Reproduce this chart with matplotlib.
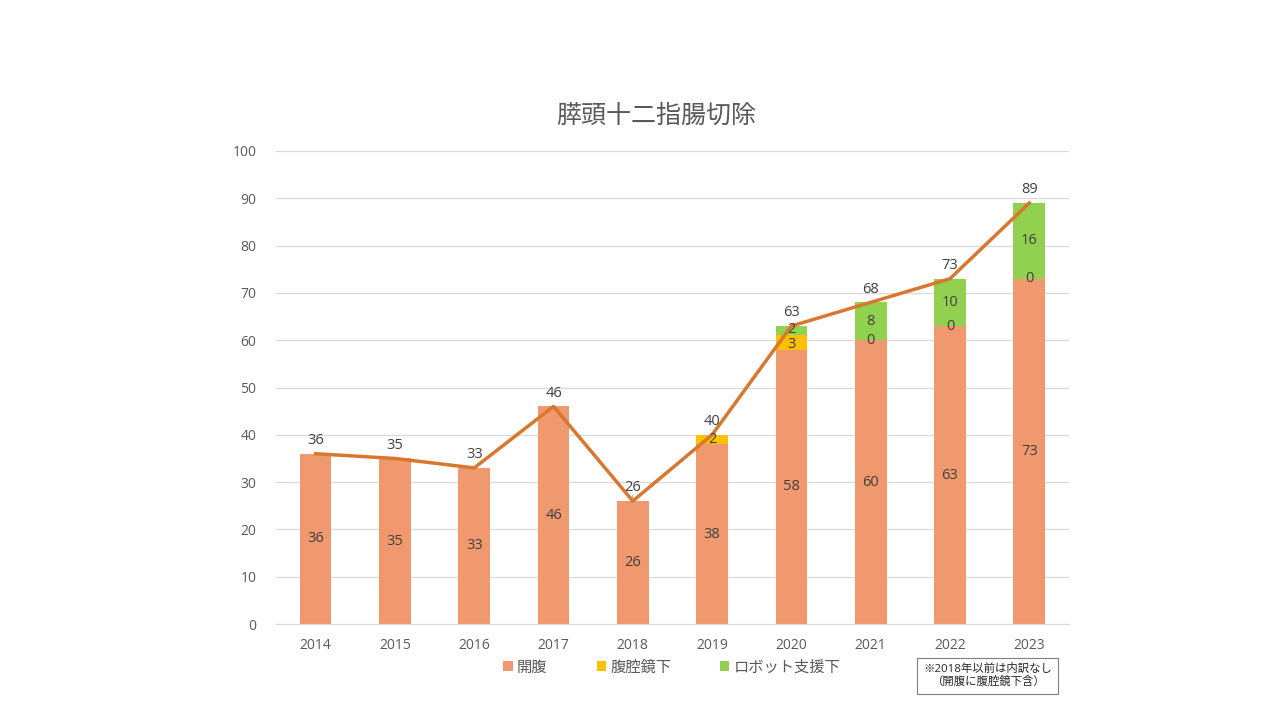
import matplotlib
matplotlib.use("Agg")
import matplotlib.pyplot as plt
import numpy as np

plt.rcParams['font.family'] = ['Open Sans', 'Noto Sans CJK JP', 'DejaVu Sans']

years = ['2014', '2015', '2016', '2017', '2018', '2019', '2020', '2021', '2022', '2023']
open_surg = [36, 35, 33, 46, 26, 38, 58, 60, 63, 73]
lap = [0, 0, 0, 0, 0, 2, 3, 0, 0, 0]
robot = [0, 0, 0, 0, 0, 0, 2, 8, 10, 16]
lap_labeled = [False, False, False, False, False, True, True, True, True, True]
robot_labeled = [False, False, False, False, False, False, True, True, True, True]
totals = [36, 35, 33, 46, 26, 40, 63, 68, 73, 89]

title = '膵頭十二指腸切除'
series_names = ['開腹', '腹腔鏡下', 'ロボット支援下']
note = '※2018年以前は内訳なし\n（開腹に腹腔鏡下含）'

c_open = '#F0996F'
c_lap = '#FFC000'
c_robot = '#92D050'
c_line = '#D9772F'
txt = '#404040'
tick_c = '#595959'

fig = plt.figure(figsize=(12.8, 7.2), dpi=100)
ax = fig.add_axes([0.2156, 0.1333, 0.6195, 0.657])

x = np.arange(len(years))
w = 0.4
o = np.array(open_surg)
l = np.array(lap)
r = np.array(robot)
ax.bar(x, o, w, color=c_open, zorder=2, label=series_names[0])
ax.bar(x, l, w, bottom=o, color=c_lap, zorder=2, label=series_names[1])
ax.bar(x, r, w, bottom=o + l, color=c_robot, zorder=2, label=series_names[2])
ax.plot(x, totals, color=c_line, lw=2.5, zorder=3)

fs = 10.5
for i in range(len(years)):
    ax.text(x[i], o[i] / 2, str(open_surg[i]), ha='center', va='center', fontsize=fs, color=txt, zorder=4)
    # nudge apart labels of two thin adjacent segments
    tight = lap_labeled[i] and robot_labeled[i] and lap[i] > 0 and robot[i] < 4
    if lap_labeled[i]:
        ax.annotate(str(lap[i]), (x[i], o[i] + l[i] / 2), xytext=(0, -1.2 if tight else 0),
                    textcoords='offset points', ha='center', va='center', fontsize=fs, color=txt, zorder=4)
    if robot_labeled[i]:
        ax.annotate(str(robot[i]), (x[i], o[i] + l[i] + r[i] / 2), xytext=(0, 1.2 if tight else 0),
                    textcoords='offset points', ha='center', va='center', fontsize=fs, color=txt, zorder=4)
    ax.annotate(str(totals[i]), (x[i], totals[i]), xytext=(0, 4), textcoords='offset points',
                ha='center', va='bottom', fontsize=fs, color=txt, zorder=4)
# leader line for the 2018 total label
ax.annotate('', (x[4], totals[4]), xytext=(0, 6), textcoords='offset points',
            arrowprops=dict(arrowstyle='-', color='#A6A6A6', lw=0.8), zorder=4)

ax.set_xlim(-0.5, len(years) - 0.5)
ax.set_ylim(0, 100)
ax.set_yticks(np.arange(0, 101, 10))
ax.set_xticks(x)
ax.set_xticklabels(years)
ax.tick_params(axis='both', length=0, labelsize=10, colors=tick_c)
ax.tick_params(axis='x', pad=10)
ax.tick_params(axis='y', pad=14)
ax.grid(axis='y', color='#D9D9D9', lw=0.9, zorder=0)
for s in ['top', 'right', 'left']:
    ax.spines[s].set_visible(False)
ax.spines['bottom'].set_color('#D9D9D9')

fig.text(0.513, 0.838, title, ha='center', va='center', fontsize=18, color='#595959')

leg = fig.legend(loc='center', bbox_to_anchor=(0.525, 0.072), ncol=3, frameon=False,
                 fontsize=11, handlelength=0.6, handleheight=0.6, handletextpad=0.3,
                 columnspacing=3.2, labelcolor=tick_c)

fig.text(0.7715, 0.061, note, ha='center', va='center', fontsize=8.2, color='#262626',
         linespacing=1.25,
         bbox=dict(boxstyle='square,pad=0.55', fc='white', ec='#7F7F7F', lw=0.8))

fig.savefig('out.png', dpi=100)
